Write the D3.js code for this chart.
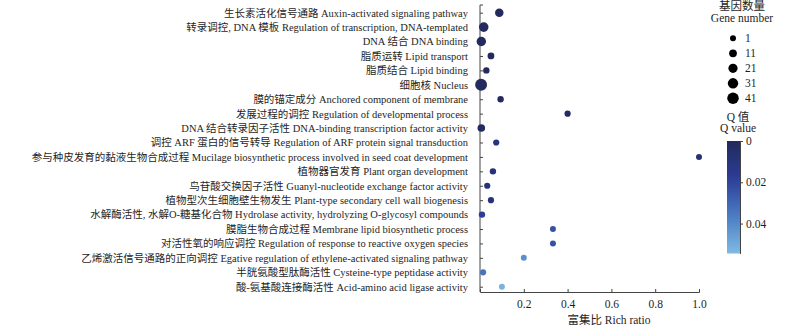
<!DOCTYPE html>
<html><head><meta charset="utf-8">
<script src="https://cdn.jsdelivr.net/npm/d3@7"></script>
<style>
body{margin:0;background:#fff;}
text{font-family:"Liberation Serif","Noto Sans CJK SC",serif;fill:#1e1e1e;}
</style></head>
<body><svg id="c" width="800" height="326"></svg>
<script>
const categories = [
 "生长素活化信号通路 Auxin-activated signaling pathway",
 "转录调控, DNA 模板 Regulation of transcription, DNA-templated",
 "DNA 结合 DNA binding",
 "脂质运转 Lipid transport",
 "脂质结合 Lipid binding",
 "细胞核 Nucleus",
 "膜的锚定成分 Anchored component of membrane",
 "发展过程的调控 Regulation of developmental process",
 "DNA 结合转录因子活性 DNA-binding transcription factor activity",
 "调控 ARF 蛋白的信号转导 Regulation of ARF protein signal transduction",
 "参与种皮发育的黏液生物合成过程 Mucilage biosynthetic process involved in seed coat development",
 "植物器官发育 Plant organ development",
 "鸟苷酸交换因子活性 Guanyl-nucleotide exchange factor activity",
 "植物型次生细胞壁生物发生 Plant-type secondary cell wall biogenesis",
 "水解酶活性, 水解O-糖基化合物 Hydrolase activity, hydrolyzing O-glycosyl compounds",
 "膜脂生物合成过程 Membrane lipid biosynthetic process",
 "对活性氧的响应调控 Regulation of response to reactive oxygen species",
 "乙烯激活信号通路的正向调控 Egative regulation of ethylene-activated signaling pathway",
 "半胱氨酸型肽酶活性 Cysteine-type peptidase activity",
 "酸-氨基酸连接酶活性 Acid-amino acid ligase activity"
];
const richRatio = [0.088,0.017,0.006,0.05,0.029,0.005,0.094,0.4,0.006,0.074,1.0,0.059,0.033,0.05,0.009,0.333,0.333,0.2,0.014,0.1];
const geneNumber = [16,24,23,5,3,45,3,2,10,2,1,3,2,2,3,1,1,1,2,1];
const qValue = [0.001,0.001,0.001,0.001,0.001,0.001,0.001,0.002,0.001,0.01,0.008,0.009,0.009,0.009,0.018,0.024,0.024,0.042,0.034,0.052];
const xTicks = [0.2,0.4,0.6,0.8,1.0];
const sizeLegend = [1,11,21,31,41];
const qTicks = [0,0.02,0.04];

const svg = d3.select("#c");
const x = d3.scaleLinear().domain([0,1]).range([480,699]);
const y = d3.scalePoint().domain(categories).range([12.7,286.7]);
const area = d3.scaleLinear().domain([1,41]).range([9,33]);
const r = n => Math.sqrt(area(n));
const qMax = 0.0545;
const color = d3.scaleLinear().domain([0,0.018,0.036,qMax]).range(["#22295a","#2c3c98","#4a7cc2","#7fbbe4"]);

// axes
const yAxis = d3.axisLeft(y).tickSize(-3).tickSizeOuter(-3).tickPadding(12);
const gy = svg.append("g").attr("transform","translate(480,0)").call(yAxis);
gy.select(".domain").attr("d","M3,5H0V292");
gy.selectAll("text").style("font-size","10.5px").attr("fill","#1e1e1e");
gy.selectAll("line,path").attr("stroke","#444");

const xAxis = d3.axisBottom(x).tickValues(xTicks).tickFormat(d3.format(".1f")).tickSize(-3).tickSizeOuter(-3).tickPadding(8);
const gx = svg.append("g").attr("transform","translate(0,292)").call(xAxis);
gx.selectAll("text").style("font-size","11.5px").attr("fill","#1e1e1e");
gx.selectAll("line,path").attr("stroke","#444");

svg.append("text").attr("x",609).attr("y",324).attr("text-anchor","middle").style("font-size","11.5px").text("富集比 Rich ratio");

// points
svg.append("g").selectAll("circle").data(categories).join("circle")
 .attr("cx",(d,i)=>x(richRatio[i])).attr("cy",d=>y(d))
 .attr("r",(d,i)=>r(geneNumber[i]))
 .attr("fill",(d,i)=>color(qValue[i]));

// size legend
const lg = svg.append("g");
lg.append("text").attr("x",742).attr("y",10).attr("text-anchor","middle").style("font-size","11.5px").text("基因数量");
lg.append("text").attr("x",742).attr("y",22).attr("text-anchor","middle").style("font-size","11.5px").text("Gene number");
const ly = d3.scalePoint().domain(sizeLegend).range([38.3,98.3]);
lg.selectAll("circle").data(sizeLegend).join("circle")
 .attr("cx",733).attr("cy",d=>ly(d)).attr("r",d=>r(d)).attr("fill","#000");
lg.selectAll("text.l").data(sizeLegend).join("text").attr("class","l")
 .attr("x",745).attr("y",d=>ly(d)+4).style("font-size","11.5px").text(d=>d);

// color legend
lg.append("text").attr("x",738).attr("y",121).attr("text-anchor","middle").style("font-size","11.5px").text("Q 值");
lg.append("text").attr("x",738).attr("y",132).attr("text-anchor","middle").style("font-size","11.5px").text("Q value");
const defs = svg.append("defs");
const grad = defs.append("linearGradient").attr("id","qg").attr("x1",0).attr("y1",0).attr("x2",0).attr("y2",1);
d3.range(0,1.001,0.1).forEach(t=>grad.append("stop").attr("offset",t).attr("stop-color",color(t*qMax)));
const cy = d3.scaleLinear().domain([0,qMax]).range([141,253.5]);
lg.append("rect").attr("x",727).attr("y",141).attr("width",13).attr("height",112.5).attr("fill","url(#qg)");
const ca = d3.axisRight(cy).tickValues(qTicks).tickFormat(d=>d===0?"0":d3.format(".2f")(d)).tickSize(3).tickSizeOuter(0).tickPadding(3);
const gc = lg.append("g").attr("transform","translate(740,0)").call(ca);
gc.select(".domain").attr("stroke","#444");
gc.selectAll("line").attr("stroke","#444");
gc.selectAll("text").style("font-size","11.5px").attr("fill","#1e1e1e");
</script></body></html>
